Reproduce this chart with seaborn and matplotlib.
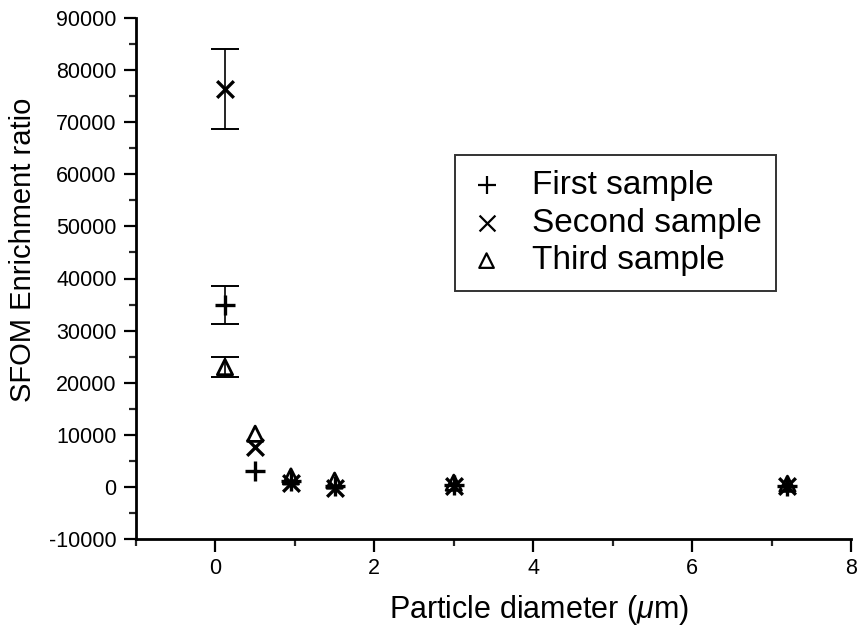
import numpy as np
import pandas as pd
import matplotlib
matplotlib.use("Agg")
import matplotlib.pyplot as plt
import seaborn as sns
from matplotlib.ticker import MultipleLocator

# Data
diameter = [0.12, 0.5, 0.95, 1.5, 3.0, 7.2]
first_sample = [35000, 3000, 1200, 200, 400, 200]
second_sample = [76400, 7600, 800, -200, 200, 100]
third_sample = [23000, 10200, 2000, 1200, 800, 600]
first_err = [3650, 0, 0, 0, 0, 0]
second_err = [7700, 0, 0, 0, 0, 0]
third_err = [1900, 0, 0, 0, 0, 0]
series_names = ["First sample", "Second sample", "Third sample"]

df = pd.DataFrame({
    "diameter": diameter * 3,
    "ratio": first_sample + second_sample + third_sample,
    "err": first_err + second_err + third_err,
    "sample": sum([[n] * len(diameter) for n in series_names], []),
})

sns.set_theme(style="ticks")
plt.rcParams["font.family"] = ["Liberation Sans", "DejaVu Sans"]
plt.rcParams["mathtext.fontset"] = "custom"
plt.rcParams["mathtext.it"] = "Liberation Sans:italic"
plt.rcParams["mathtext.rm"] = "Liberation Sans"
plt.rcParams["axes.unicode_minus"] = False
plt.rcParams["text.color"] = "black"
plt.rcParams["axes.labelcolor"] = "black"

fig = plt.figure(figsize=(8.59, 6.28), dpi=100)
ax = fig.add_axes([136 / 859, 1 - 539 / 628, (851 - 136) / 859, (539 - 18) / 628])

marker_map = {"First sample": "+", "Second sample": "x", "Third sample": "^"}
size_map = {"First sample": 14, "Second sample": 12, "Third sample": 11}

for name in series_names:
    sub = df[df["sample"] == name]
    eb = sub[sub["err"] > 0]
    ax.errorbar(eb["diameter"], eb["ratio"], yerr=eb["err"], fmt="none",
                ecolor="black", elinewidth=1.2, capsize=10, capthick=1.4, zorder=2)

for name in series_names:
    sub = df[df["sample"] == name]
    if marker_map[name] == "^":
        sns.scatterplot(data=sub, x="diameter", y="ratio", ax=ax, marker="^",
                        s=size_map[name] ** 2, facecolor="none", edgecolor="black",
                        linewidth=2.0, label=name, zorder=3)
    else:
        sns.scatterplot(data=sub, x="diameter", y="ratio", ax=ax, marker=marker_map[name],
                        s=size_map[name] ** 2, color="black", linewidth=2.4,
                        label=name, zorder=3)

ax.set_xlim(-1, 8)
ax.set_ylim(-10000, 90000)
ax.xaxis.set_major_locator(MultipleLocator(2))
ax.xaxis.set_minor_locator(MultipleLocator(1))
ax.yaxis.set_major_locator(MultipleLocator(10000))
ax.yaxis.set_minor_locator(MultipleLocator(5000))
ax.set_xticks([0, 2, 4, 6, 8])

for s in ["top", "right"]:
    ax.spines[s].set_visible(False)
for s in ["left", "bottom"]:
    ax.spines[s].set_linewidth(2.0)
    ax.spines[s].set_color("black")

ax.tick_params(axis="both", which="major", direction="out", length=9, width=1.6,
               labelsize=15.5, colors="black", pad=5)
ax.tick_params(axis="both", which="minor", direction="out", length=5, width=1.6)

ax.set_xlabel(r"Particle diameter ($\mu$m)", fontsize=22, color="black")
ax.set_ylabel("SFOM Enrichment ratio", fontsize=21, color="black")
ax.xaxis.set_label_coords(0.564, -0.103)
ax.yaxis.set_label_coords(-0.138, 0.555)

leg = ax.legend(loc="upper left", bbox_to_anchor=(0.446, 0.737), frameon=True,
                fancybox=False, edgecolor="black", fontsize=24, handletextpad=0.85,
                borderpad=0.45, labelspacing=0.2, borderaxespad=0, handlelength=1.0,
                markerscale=0.95, labelcolor="black")
leg.get_frame().set_linewidth(1.4)
for h in leg.legend_handles:
    h.set_linewidth(1.6)

fig.savefig("out.png", dpi=100)
